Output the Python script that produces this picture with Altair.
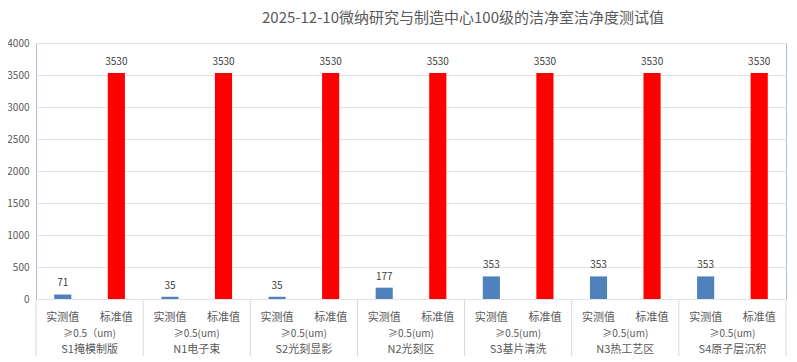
import altair as alt
import pandas as pd

title_text = "2025-12-10微纳研究与制造中心100级的洁净室洁净度测试值"
groups = ["S1掩模制版", "N1电子束", "S2光刻显影", "N2光刻区", "S3基片清洗", "N3热工艺区", "S4原子层沉积"]
specs = ["≥0.5（um)", "≥0.5(um)", "≥0.5(um)", "≥0.5(um)", "≥0.5(um)", "≥0.5(um)", "≥0.5(um)"]
series = ["实测值", "标准值"]
measured = [71, 35, 35, 177, 353, 353, 353]
standard = [3530, 3530, 3530, 3530, 3530, 3530, 3530]
y_ticks = [0, 500, 1000, 1500, 2000, 2500, 3000, 3500, 4000]

rows = []
for g, m, s in zip(groups, measured, standard):
    rows.append({"key": g + "|" + series[0], "group": g, "type": series[0], "value": m})
    rows.append({"key": g + "|" + series[1], "group": g, "type": series[1], "value": s})
bars_df = pd.DataFrame(rows)
key_order = list(bars_df["key"])

groups_df = pd.DataFrame({"group": groups, "spec": specs})
bounds_df = pd.DataFrame({"b": list(range(len(groups) + 1))})

FONT = "Noto Sans CJK SC"
W, H = 750, 256

xk = alt.X("key:N", sort=key_order,
           scale=alt.Scale(paddingInner=0.68, paddingOuter=0.34), axis=None)

y_axis = alt.Axis(values=y_ticks, format="d", labelOverlap=False, title=None,
                  ticks=False, domain=False, gridColor="#e3e3e3",
                  labelColor="#595959", labelFontSize=10, labelPadding=7,
                  labelFont=FONT)

bars = alt.Chart(bars_df).mark_bar().encode(
    x=xk,
    y=alt.Y("value:Q", scale=alt.Scale(domain=[0, 4000]), axis=y_axis),
    color=alt.Color("type:N", sort=series,
                    scale=alt.Scale(domain=series, range=["#4f81bd", "#ff0000"]),
                    legend=None),
)

value_labels = alt.Chart(bars_df).mark_text(
    dy=-6, fontSize=10, color="#404040", font=FONT, baseline="bottom"
).encode(x=xk, y=alt.Y("value:Q", axis=y_axis), text=alt.Text("value:Q"))

type_labels = alt.Chart(bars_df).mark_text(
    fontSize=11, color="#595959", font=FONT, baseline="middle"
).encode(x=xk, y=alt.value(H + 19), text="type:N")

xg = alt.X("group:N", sort=groups,
           scale=alt.Scale(paddingInner=0, paddingOuter=0), axis=None)

spec_labels = alt.Chart(groups_df).mark_text(
    fontSize=10, color="#595959", font=FONT, baseline="middle"
).encode(x=xg, y=alt.value(H + 35), text="spec:N")

name_labels = alt.Chart(groups_df).mark_text(
    fontSize=11, color="#595959", font=FONT, baseline="middle"
).encode(x=xg, y=alt.value(H + 51), text="group:N")

seps = alt.Chart(bounds_df).mark_rule(color="#d9d9d9", strokeWidth=1).encode(
    x=alt.X("b:Q", scale=alt.Scale(domain=[0, len(groups)], nice=False, zero=False), axis=None),
    y=alt.value(H),
    y2=alt.value(H + 57),
)

chart = alt.layer(
    bars, value_labels, type_labels, seps, spec_labels, name_labels
).resolve_scale(x="independent").properties(
    width=W, height=H,
    autosize=alt.AutoSizeParams(type="none"),
    padding={"left": 28, "top": 35, "right": 3, "bottom": 60},
    title=alt.TitleParams(title_text, font=FONT, fontSize=15, fontWeight="normal",
                          color="#595959", anchor="middle", dx=52, offset=12),
).configure_view(stroke="#a9c0de", strokeWidth=1)

chart.save("out.html", embed_options={"renderer": "svg", "actions": False})
